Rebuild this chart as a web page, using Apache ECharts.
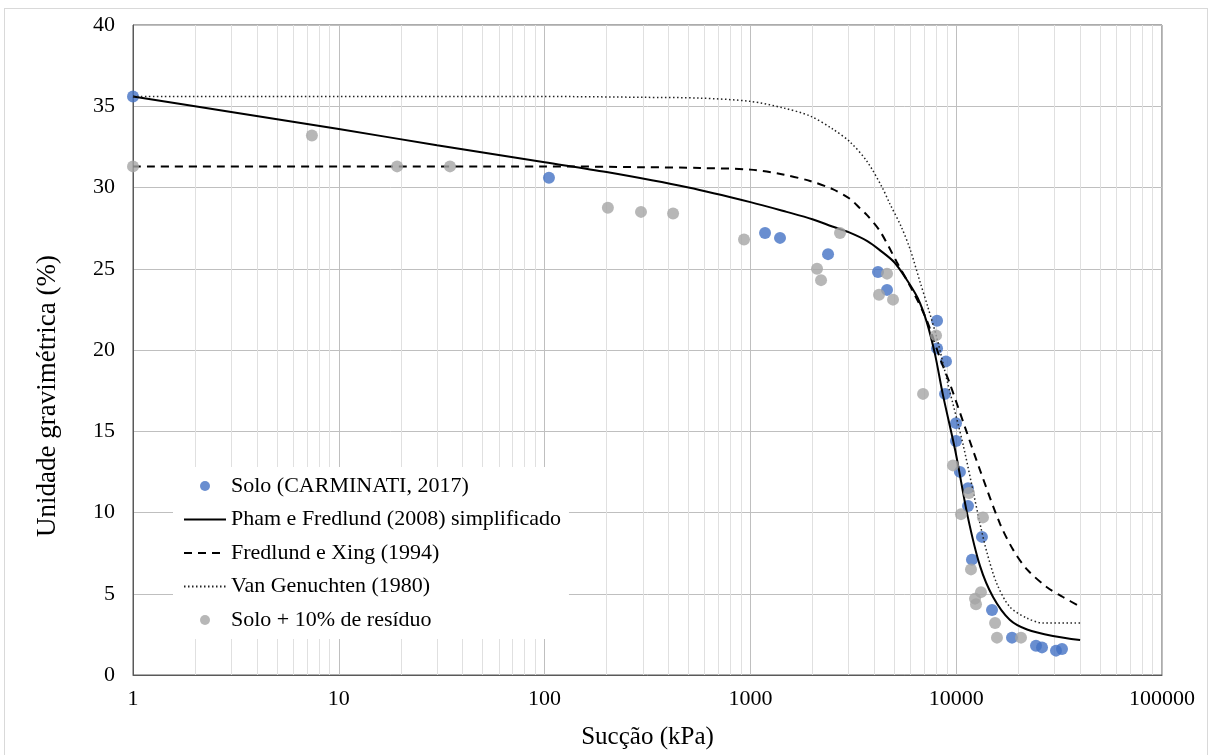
<!DOCTYPE html>
<html>
<head>
<meta charset="utf-8">
<script src="https://cdn.jsdelivr.net/npm/echarts@6.0.0/dist/echarts.min.js"></script>
<style>
  html, body { margin: 0; padding: 0; background: #fff; }
  .frame { position: absolute; left: 4px; top: 8px; right: 1px; bottom: -2px; border: 1px solid #d9d9d9; }
  #chart { width: 1209px; height: 755px; position: absolute; left: 0; top: 0; }
</style>
</head>
<body>
<div class="frame"></div>
<div id="chart"></div>
<script>
// pontos medidos - Solo (CARMINATI, 2017)
const soloX = [1, 105, 1178, 1393, 2384, 4169, 4612, 8070, 8070, 8918, 8826, 9975, 9975, 10430, 11410, 11410, 13340, 11930, 14930, 18670, 24420, 26120, 30540, 32660];
const soloY = [35.6, 30.6, 27.2, 26.9, 25.9, 24.8, 23.7, 21.8, 20.1, 19.3, 17.3, 15.5, 14.4, 12.5, 11.5, 10.4, 8.5, 7.1, 4.0, 2.3, 1.8, 1.7, 1.5, 1.6];

// Solo + 10% de residuo
const residX = [1, 7.4, 19.2, 34.7, 203, 294, 421, 931, 2107, 2204, 2725, 4217, 4612, 4932, 6900, 7980, 9648, 10550, 11540, 13490, 11800, 13190, 12340, 12480, 15450, 15780, 20650];
const residY = [31.3, 33.2, 31.3, 31.3, 28.75, 28.5, 28.4, 26.8, 25.0, 24.3, 27.2, 23.4, 24.7, 23.1, 17.3, 20.9, 12.9, 9.9, 11.2, 9.7, 6.5, 5.1, 4.7, 4.35, 3.2, 2.3, 2.3];

// Pham e Fredlund (2008) simplificado
const pfX = [1, 3, 10, 30, 100, 200, 500, 1000, 1500, 2000, 2500, 3000, 3700, 4300, 5000, 5700, 6500, 7200, 7900, 8600, 9900, 11400, 13060, 15100, 18200, 22100, 29500, 40000];
const pfY = [35.6, 34.65, 33.6, 32.6, 31.55, 30.95, 30.0, 29.1, 28.5, 28.05, 27.6, 27.25, 26.7, 26.1, 25.4, 24.4, 23.2, 21.7, 19.7, 17.3, 13.8, 9.7, 6.7, 4.8, 3.4, 2.8, 2.4, 2.15];

// Fredlund e Xing (1994)
const fxX = [1, 10, 100, 300, 570, 1000, 1440, 1950, 2510, 3050, 3420, 3690, 4270, 5150, 6170, 7210, 8340, 9330, 11000, 13060, 16330, 18920, 22080, 27610, 33040, 40000];
const fxY = [31.3, 31.3, 31.3, 31.25, 31.2, 31.1, 30.8, 30.4, 29.9, 29.3, 28.7, 28.3, 27.3, 25.4, 23.6, 21.8, 19.5, 17.9, 15.3, 12.6, 9.3, 7.7, 6.5, 5.4, 4.8, 4.2];

// Van Genuchten (1980)
const vgX = [1, 100, 300, 570, 1000, 1440, 1950, 2510, 3050, 3690, 4370, 4760, 5400, 5970, 6670, 7300, 8070, 9120, 10790, 13060, 14130, 15780, 18200, 22080, 26400, 40000];
const vgY = [35.6, 35.6, 35.55, 35.5, 35.3, 34.9, 34.4, 33.6, 32.8, 31.6, 30.0, 29.0, 27.6, 26.2, 24.2, 22.6, 20.7, 17.9, 14.2, 9.3, 7.5, 5.6, 4.2, 3.5, 3.2, 3.2];

const decades = [1, 10, 100, 1000, 10000];

const FONT = '"Liberation Serif", "Times New Roman", serif';

function pairs(xs, ys) {
  return xs.map((x, i) => [x, ys[i]]);
}

// linhas secundarias da grade (2..9 em cada decada)
const minorLines = [];
decades.forEach(d => {
  for (let k = 2; k <= 9; k++) minorLines.push({ xAxis: d * k });
});

const chart = echarts.init(document.getElementById('chart'));
chart.setOption({
  animation: false,
  grid: {
    left: 133, right: 47, top: 25, bottom: 76,
    show: true, borderColor: '#595959', borderWidth: 1
  },
  xAxis: {
    type: 'log', logBase: 10, min: 1, max: 100000,
    name: 'Sucção (kPa)', nameLocation: 'middle', nameGap: 50,
    nameTextStyle: { fontFamily: FONT, fontSize: 25, color: '#000' },
    axisLine: { show: true, lineStyle: { color: '#595959' } },
    axisTick: { show: false },
    axisLabel: {
      margin: 13, fontFamily: FONT, fontSize: 22, color: '#000',
      formatter: v => String(Math.round(v))
    },
    splitLine: { show: true, lineStyle: { color: '#bfbfbf', width: 1 } }
  },
  yAxis: {
    type: 'value', min: 0, max: 40, interval: 5,
    axisLine: { show: true, lineStyle: { color: '#595959' } },
    axisTick: { show: false },
    axisLabel: { margin: 18, fontFamily: FONT, fontSize: 22, color: '#000' },
    splitLine: { show: true, lineStyle: { color: '#bfbfbf', width: 1 } }
  },
  graphic: [{
    type: 'text', x: 48, y: 396, rotation: Math.PI / 2,
    style: {
      text: 'Unidade gravimétrica (%)', font: '27px ' + FONT, fill: '#000',
      align: 'center', verticalAlign: 'middle'
    }
  }],
  legend: {
    orient: 'vertical', left: 173, top: 467, z: 20,
    backgroundColor: '#fff', padding: [8, 8, 8, 10],
    itemGap: 11.5, itemWidth: 42, itemHeight: 10,
    textStyle: { fontFamily: FONT, fontSize: 22, color: '#000' },
    data: [
      'Solo (CARMINATI, 2017)',
      { name: 'Pham e Fredlund (2008) simplificado', itemStyle: { opacity: 0 } },
      { name: 'Fredlund e Xing (1994)', itemStyle: { opacity: 0 } },
      { name: 'Van Genuchten (1980)', itemStyle: { opacity: 0 } },
      'Solo + 10% de resíduo'
    ]
  },
  series: [
    {
      name: 'grade', type: 'line', data: [], silent: true, z: 1,
      markLine: {
        silent: true, symbol: 'none', label: { show: false }, z: 1,
        lineStyle: { color: '#e0e0e0', type: 'solid', width: 1 },
        data: minorLines
      }
    },
    {
      name: 'Solo (CARMINATI, 2017)', type: 'scatter', symbol: 'circle', symbolSize: 12,
      itemStyle: { color: '#4472c4' }, z: 3,
      data: pairs(soloX, soloY)
    },
    {
      name: 'Pham e Fredlund (2008) simplificado', type: 'line', showSymbol: false, symbol: 'none',
      smooth: 0.3, z: 4,
      lineStyle: { color: '#000', width: 2, type: 'solid' },
      itemStyle: { color: '#000' },
      data: pairs(pfX, pfY)
    },
    {
      name: 'Fredlund e Xing (1994)', type: 'line', showSymbol: false, symbol: 'none',
      smooth: 0.3, z: 4,
      lineStyle: { color: '#000', width: 2, type: [8, 6] },
      itemStyle: { color: '#000' },
      data: pairs(fxX, fxY)
    },
    {
      name: 'Van Genuchten (1980)', type: 'line', showSymbol: false, symbol: 'none',
      smooth: 0.3, z: 4,
      lineStyle: { color: '#222', width: 1.5, type: [1.5, 2.5] },
      itemStyle: { color: '#222' },
      data: pairs(vgX, vgY)
    },
    {
      name: 'Solo + 10% de resíduo', type: 'scatter', symbol: 'circle', symbolSize: 12,
      itemStyle: { color: '#a5a5a5' }, z: 5,
      data: pairs(residX, residY)
    }
  ]
});
</script>
</body>
</html>
